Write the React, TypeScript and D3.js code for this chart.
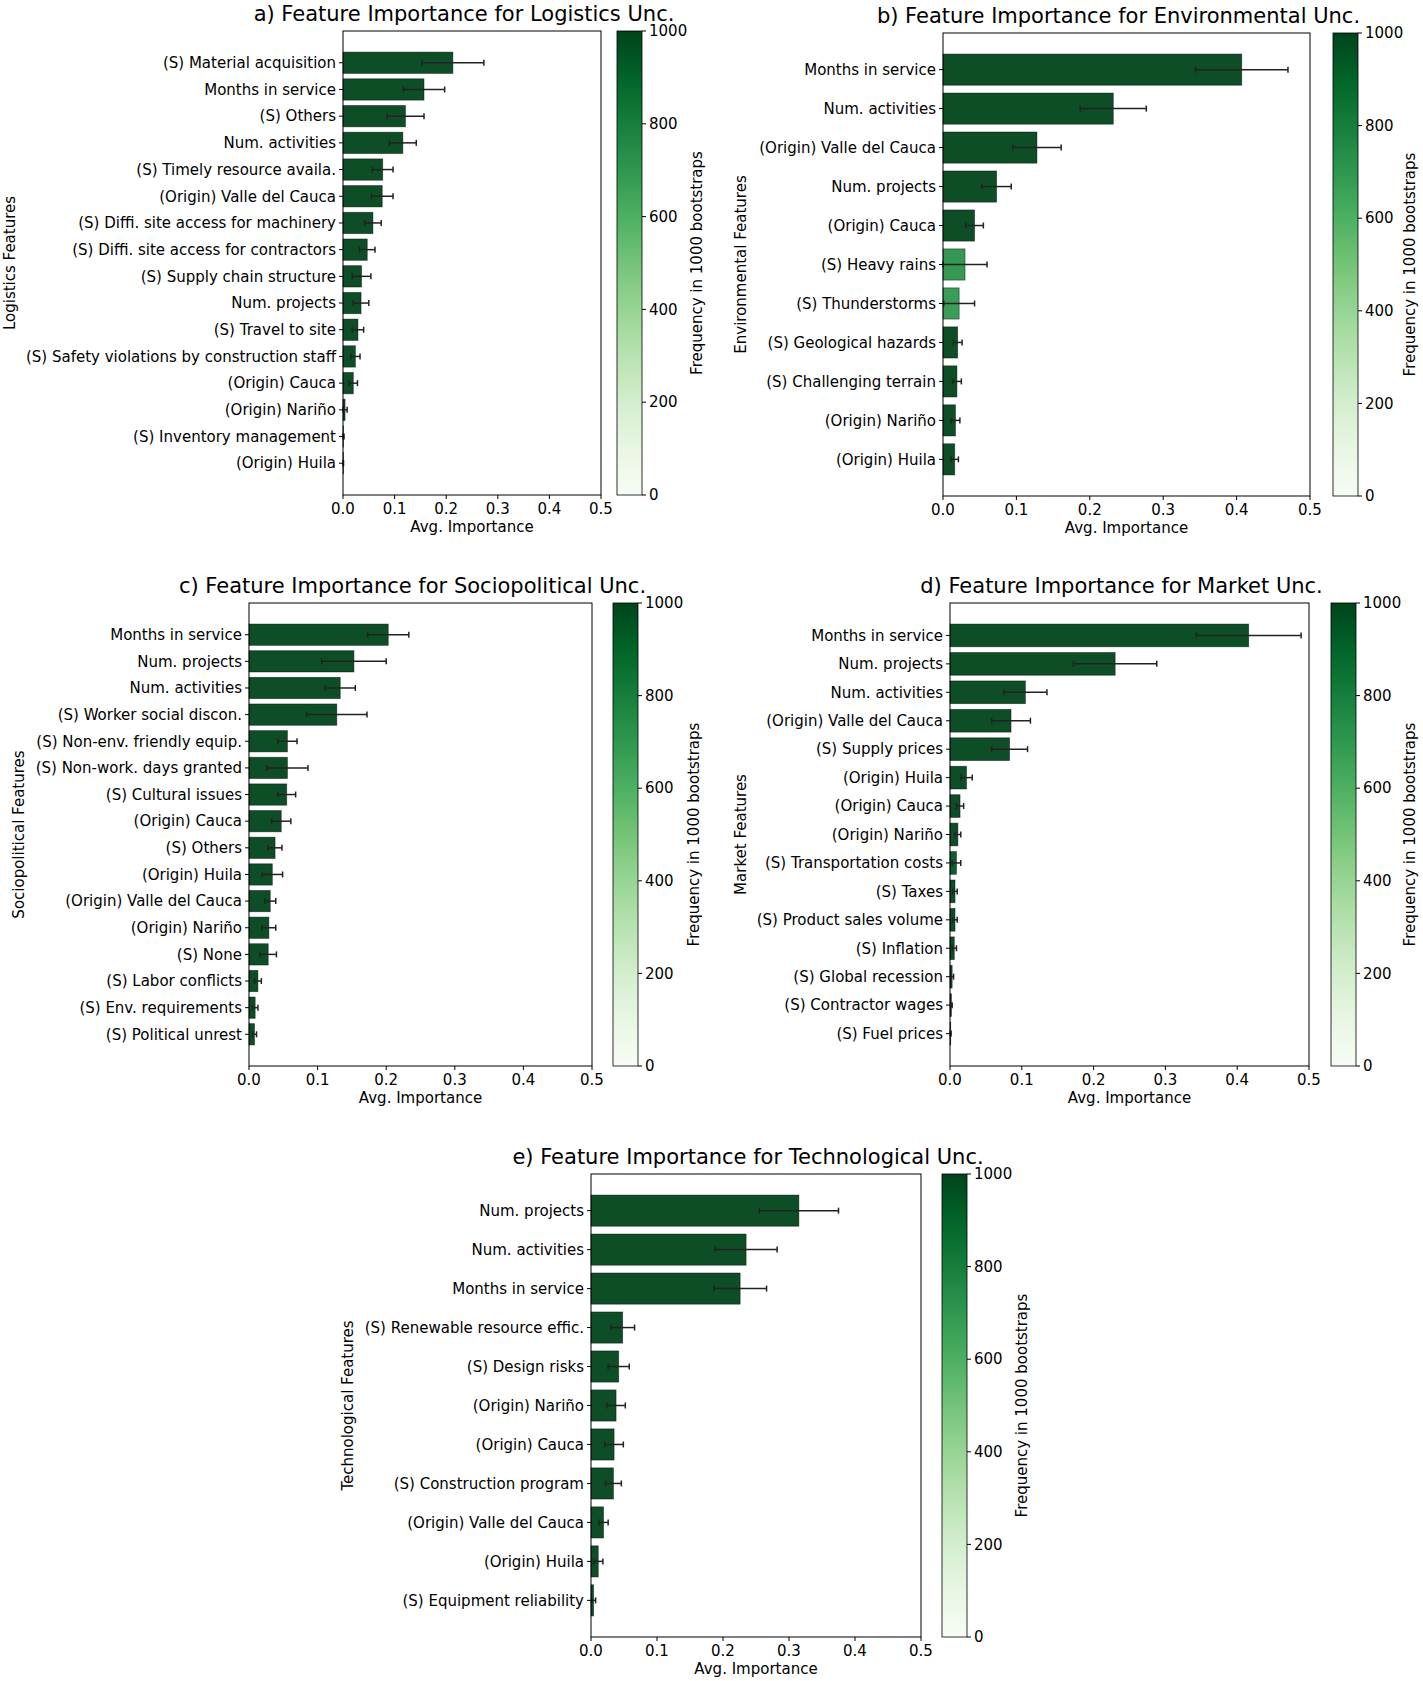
import React from "react";
import * as d3 from "d3";

const logNames = ["(S) Material acquisition","Months in service","(S) Others","Num. activities","(S) Timely resource availa.","(Origin) Valle del Cauca","(S) Diffi. site access for machinery","(S) Diffi. site access for contractors","(S) Supply chain structure","Num. projects","(S) Travel to site","(S) Safety violations by construction staff","(Origin) Cauca","(Origin) Nariño","(S) Inventory management","(Origin) Huila"];
const logVals = [0.213,0.157,0.121,0.116,0.077,0.076,0.058,0.047,0.036,0.035,0.029,0.024,0.02,0.004,0.001,0.0005];
const logErr = [0.06,0.04,0.036,0.026,0.02,0.021,0.016,0.015,0.018,0.015,0.011,0.009,0.008,0.004,0.001,0.0005];
const logFreq = logNames.map(() => 1000);

const envNames = ["Months in service","Num. activities","(Origin) Valle del Cauca","Num. projects","(Origin) Cauca","(S) Heavy rains","(S) Thunderstorms","(S) Geological hazards","(S) Challenging terrain","(Origin) Nariño","(Origin) Huila"];
const envVals = [0.407,0.232,0.128,0.073,0.043,0.03,0.022,0.02,0.019,0.017,0.016];
const envErr = [0.063,0.045,0.033,0.02,0.012,0.03,0.021,0.006,0.006,0.006,0.005];
const envFreq = [1000,1000,1000,1000,1000,720,700,1000,1000,1000,1000];

const socNames = ["Months in service","Num. projects","Num. activities","(S) Worker social discon.","(S) Non-env. friendly equip.","(S) Non-work. days granted","(S) Cultural issues","(Origin) Cauca","(S) Others","(Origin) Huila","(Origin) Valle del Cauca","(Origin) Nariño","(S) None","(S) Labor conflicts","(S) Env. requirements","(S) Political unrest"];
const socVals = [0.203,0.153,0.133,0.128,0.056,0.056,0.055,0.047,0.038,0.034,0.031,0.029,0.028,0.013,0.009,0.008];
const socErr = [0.03,0.047,0.022,0.044,0.014,0.03,0.013,0.014,0.01,0.015,0.008,0.01,0.012,0.005,0.004,0.003];
const socFreq = socNames.map(() => 1000);

const mktNames = ["Months in service","Num. projects","Num. activities","(Origin) Valle del Cauca","(S) Supply prices","(Origin) Huila","(Origin) Cauca","(Origin) Nariño","(S) Transportation costs","(S) Taxes","(S) Product sales volume","(S) Inflation","(S) Global recession","(S) Contractor wages","(S) Fuel prices"];
const mktVals = [0.416,0.23,0.105,0.085,0.083,0.023,0.014,0.011,0.009,0.007,0.007,0.006,0.003,0.002,0.001];
const mktErr = [0.073,0.058,0.03,0.027,0.025,0.008,0.005,0.004,0.006,0.003,0.003,0.003,0.002,0.001,0.0005];
const mktFreq = [1000,1000,1000,1000,1000,1000,1000,1000,950,1000,1000,1000,1000,1000,1000];

const tecNames = ["Num. projects","Num. activities","Months in service","(S) Renewable resource effic.","(S) Design risks","(Origin) Nariño","(Origin) Cauca","(S) Construction program","(Origin) Valle del Cauca","(Origin) Huila","(S) Equipment reliability"];
const tecVals = [0.315,0.235,0.226,0.048,0.042,0.038,0.035,0.034,0.019,0.011,0.004];
const tecErr = [0.06,0.047,0.04,0.018,0.016,0.014,0.014,0.012,0.007,0.007,0.003];
const tecFreq = tecNames.map(() => 1000);

const xTicks = [0, 0.1, 0.2, 0.3, 0.4, 0.5];
const cbTicks = [0, 200, 400, 600, 800, 1000];

const FONT = "DejaVu Sans, sans-serif";

type PP = {
  title: string; ylab: string; names: string[]; vals: number[]; errs: number[]; freq: number[];
  x0: number; x1: number; y0: number; y1: number; cb0: number; ylabX: number; cbLabX: number;
};

function Panel(p: PP) {
  const n = p.names.length;
  const x = d3.scaleLinear().domain([0, 0.5]).range([p.x0, p.x1]);
  const m = 0.05 * (n - 0.2);
  const y = d3.scaleLinear().domain([-0.4 - m, n - 0.6 + m]).range([p.y0, p.y1]);
  const bh = (y(0.8) - y(0));
  const cbY = d3.scaleLinear().domain([0, 1000]).range([p.y1, p.y0]);
  const gid = "g" + p.title.slice(0, 1);
  const stops = d3.range(0, 1.0001, 0.05);
  const cy = (p.y0 + p.y1) / 2;
  return (
    <g fontFamily={FONT}>
      <defs>
        <linearGradient id={gid} x1="0" y1="1" x2="0" y2="0">
          {stops.map((s) => <stop key={s} offset={s} stopColor={d3.interpolateGreens(s)} />)}
        </linearGradient>
      </defs>
      <text x={(p.x0 + p.x1) / 2 - 8} y={p.y0 - 10} fontSize={21} textAnchor="middle">{p.title}</text>
      {p.names.map((nm, i) => {
        const v = p.vals[i], e = p.errs[i], yc = y(i);
        return (
          <g key={nm}>
            <rect x={x(0)} y={yc - bh / 2} width={Math.max(0.5, x(v) - x(0))} height={bh}
              fill={d3.interpolateGreens(p.freq[i] / 1000)} fillOpacity={0.95} stroke="#000" strokeOpacity={0.5} strokeWidth={0.8} />
            <line x1={x(Math.max(0, v - e))} x2={x(v + e)} y1={yc} y2={yc} stroke="#222" strokeWidth={1.5} />
            <line x1={x(v + e)} x2={x(v + e)} y1={yc - 3} y2={yc + 3} stroke="#222" strokeWidth={1.5} />
            <line x1={x(Math.max(0, v - e))} x2={x(Math.max(0, v - e))} y1={yc - 3} y2={yc + 3} stroke="#222" strokeWidth={1.5} />
            <line x1={p.x0 - 4} x2={p.x0} y1={yc} y2={yc} stroke="#000" />
            <text x={p.x0 - 7} y={yc} dy="0.35em" fontSize={15} textAnchor="end">{nm}</text>
          </g>
        );
      })}
      <rect x={p.x0} y={p.y0} width={p.x1 - p.x0} height={p.y1 - p.y0} fill="none" stroke="#000" strokeWidth={1} />
      {xTicks.map((t) => (
        <g key={t}>
          <line x1={x(t)} x2={x(t)} y1={p.y1} y2={p.y1 + 4} stroke="#000" />
          <text x={x(t)} y={p.y1 + 19} fontSize={15} textAnchor="middle">{t.toFixed(1)}</text>
        </g>
      ))}
      <text x={(p.x0 + p.x1) / 2} y={p.y1 + 37} fontSize={15} textAnchor="middle">Avg. Importance</text>
      <text transform={`translate(${p.ylabX},${cy}) rotate(-90)`} fontSize={15} textAnchor="middle" dy="0.35em">{p.ylab}</text>
      <rect x={p.cb0} y={p.y0} width={25} height={p.y1 - p.y0} fill={`url(#${gid})`} stroke="#000" strokeWidth={0.8} />
      {cbTicks.map((t) => (
        <g key={t}>
          <line x1={p.cb0 + 25} x2={p.cb0 + 29} y1={cbY(t)} y2={cbY(t)} stroke="#000" />
          <text x={p.cb0 + 32} y={cbY(t)} dy="0.35em" fontSize={15}>{t}</text>
        </g>
      ))}
      <text transform={`translate(${p.cbLabX},${cy}) rotate(-90)`} fontSize={15} textAnchor="middle" dy="0.35em">Frequency in 1000 bootstraps</text>
    </g>
  );
}

export default function App() {
  return (
    <svg width={1423} height={1681} style={{ display: "block", position: "absolute", left: 0, top: 0 }}>
      <rect width={1423} height={1681} fill="#fff" />
      <Panel title="a) Feature Importance for Logistics Unc." ylab="Logistics Features" names={logNames} vals={logVals} errs={logErr} freq={logFreq}
        x0={343} x1={601} y0={31} y1={495} cb0={617} ylabX={10} cbLabX={697} />
      <Panel title="b) Feature Importance for Environmental Unc." ylab="Environmental Features" names={envNames} vals={envVals} errs={envErr} freq={envFreq}
        x0={943} x1={1310} y0={33} y1={496} cb0={1333} ylabX={741} cbLabX={1410} />
      <Panel title="c) Feature Importance for Sociopolitical Unc." ylab="Sociopolitical Features" names={socNames} vals={socVals} errs={socErr} freq={socFreq}
        x0={249} x1={592} y0={603} y1={1066} cb0={613} ylabX={19} cbLabX={694} />
      <Panel title="d) Feature Importance for Market Unc." ylab="Market Features" names={mktNames} vals={mktVals} errs={mktErr} freq={mktFreq}
        x0={950} x1={1309} y0={603} y1={1066} cb0={1331} ylabX={741} cbLabX={1410} />
      <Panel title="e) Feature Importance for Technological Unc." ylab="Technological Features" names={tecNames} vals={tecVals} errs={tecErr} freq={tecFreq}
        x0={591} x1={921} y0={1174} y1={1637} cb0={942} ylabX={348} cbLabX={1022} />
    </svg>
  );
}
